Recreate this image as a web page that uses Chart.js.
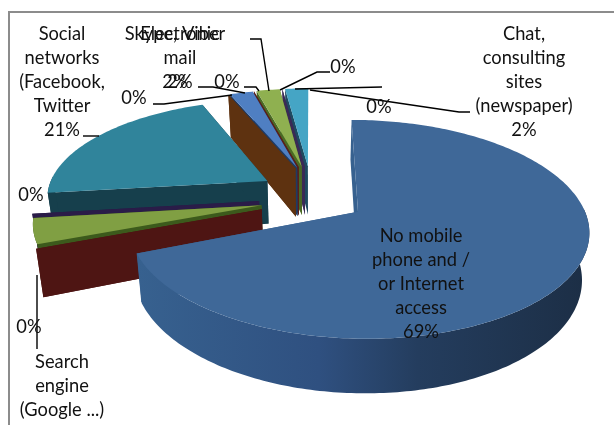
<!DOCTYPE html>
<html>
<head>
<meta charset="utf-8">
<script src="https://cdn.jsdelivr.net/npm/chart.js@4"></script>
<style>
  html, body { margin: 0; background: #fff; }
  canvas { display: block; }
</style>
</head>
<body>
<canvas id="myChart" width="614" height="425"></canvas>
<script>
const categories = [
  "No mobile phone and / or Internet access", "Zero A", "Search engine (Google ...)", "Zero B",
  "Social networks (Facebook, Twitter", "Zero C", "Skype, Viber", "Zero D",
  "Electronic mail", "Zero E", "Chat, consulting sites (newspaper)", "Zero F"
];
const values = [69, 0, 4, 0, 21, 0, 2, 0, 2, 0, 2, 0];
const topColors = ["#3f6898", "#8a3a36", "#809f43", "#5f4a80", "#30849b", "#b65708",
                   "#4f7fc2", "#772c2a", "#8fb050", "#4d3b62", "#45a5c5", "#b65708"];
const sideColors = ["#37618f", "#4e1513", "#3c5a1c", "#2a1c48", "#163f4c", "#5e3210",
                    "#1f3a63", "#5a1f1a", "#4a6a25", "#3a2a55", "#1e4a60", "#5e3210"];
const wallStops = [[0, "#37618f"], [0.4, "#2f5080"], [0.62, "#243d5e"], [1, "#1c2e45"]];

// per slice tweaks of the tilted look
const pullScaleX = [1.07, 1, 0.97, 1, 1, 0.85, 0.9, 1, 1, 1, 1, 1];
const pullScaleY = [0.8, 1, 1, 1, 1, 1, 1, 1, 1, 1, 1, 1];
const radiusScaleY = [1.04, 1, 1, 1, 1, 1, 1, 1, 1, 1, 1, 1];
const depthScale = [1.02, 1.02, 1, 1, 1, 1.15, 1.15, 1.15, 1.15, 1.15, 1.15, 1.15];

// text blocks: lines, centre x, y of first line
const labelBlocks = [
  [["Social", "networks", "(Facebook,", "Twitter", "21%"], 62, 34],
  [["Skype, Viber", "", "2%"], 175, 34],
  [["Electronic", "mail", "2%"], 180, 34],
  [["0%"], 134, 98],
  [["0%"], 227, 82],
  [["0%"], 31, 195],
  [["0%"], 29, 327],
  [["Search", "engine", "(Google ...)"], 62, 362],
  [["0%"], 343, 67],
  [["0%"], 379, 107],
  [["Chat,", "consulting", "sites", "(newspaper)", "2%"], 524, 34],
  [["No mobile", "phone and /", "or Internet", "access", "69%"], 421, 236]
];
const leaderLines = [
  [[83, 136], [99, 136]],
  [[153, 104], [164, 104], [232, 95]],
  [[198, 87], [213, 87], [245, 93]],
  [[244, 87], [256, 87], [259, 91]],
  [[250, 39], [261, 39], [269, 91]],
  [[330, 72], [317, 72], [280, 90]],
  [[295, 89], [382, 87]],
  [[470, 112], [459, 112], [310, 90]],
  [[37, 275], [37, 349]]
];

const view = { cx: 311, cy: 197, rx: 222, ry: 98, persp: 0.15, depth: 44, pullX: 0.234, pullY: 0.33 };

function project(wx, wy, z) {
  const s = 1 / (1 - view.persp * wy);
  const shrink = 1 - 0.026 * (z / view.depth);
  return [view.cx + view.rx * wx * s * shrink, view.cy + view.ry * wy * s + z * s];
}

function poly(ctx, pts, fill) {
  ctx.beginPath();
  pts.forEach((p, i) => i ? ctx.lineTo(p[0], p[1]) : ctx.moveTo(p[0], p[1]));
  ctx.closePath();
  ctx.fillStyle = fill;
  ctx.fill();
}

const pie3d = {
  id: "pie3d",
  beforeDatasetsDraw(chart) {
    const ctx = chart.ctx;
    const arcs = chart.getDatasetMeta(0).data.map((arc, i) => {
      const mid = (arc.startAngle + arc.endAngle) / 2;
      return {
        i, a0: arc.startAngle, a1: arc.endAngle,
        ax: Math.cos(mid) * view.pullX * pullScaleX[i],
        ay: Math.sin(mid) * view.pullY * pullScaleY[i],
        top: arc.options.backgroundColor
      };
    });
    arcs.sort((p, q) => p.ay - q.ay);

    arcs.forEach(s => {
      const side = sideColors[s.i];
      const depth = view.depth * depthScale[s.i];
      const rim = a => [s.ax + Math.cos(a), s.ay + Math.sin(a) * radiusScaleY[s.i]];
      // radial faces, edge-on ones are skipped
      [s.a0, s.a1].forEach(a => {
        const [rx, ry] = rim(a);
        const p0 = project(s.ax, s.ay, 0), p1 = project(rx, ry, 0);
        if (Math.abs(p1[0] - p0[0]) < 2) return;
        poly(ctx, [p0, p1, project(rx, ry, depth), project(s.ax, s.ay, depth)], side);
      });
      // outer wall, front half only
      const upper = [], lower = [];
      for (let a = s.a0; a <= s.a1 + 1e-6; a += Math.PI / 180) {
        if (Math.sin(a) < -0.05) continue;
        const [x, y] = rim(a);
        upper.push(project(x, y, 0));
        lower.unshift(project(x, y, depth));
      }
      if (upper.length > 1) {
        let fill = side;
        if (s.i == 0) {
          fill = ctx.createLinearGradient(138, 0, 590, 0);
          wallStops.forEach(st => fill.addColorStop(st[0], st[1]));
        }
        poly(ctx, upper.concat(lower), fill);
      }
      // top
      if (s.a1 > s.a0) {
        const pts = [project(s.ax, s.ay, 0)];
        for (let a = s.a0; a < s.a1; a += Math.PI / 180) {
          const [x, y] = rim(a);
          pts.push(project(x, y, 0));
        }
        const [x, y] = rim(s.a1);
        pts.push(project(x, y, 0));
        poly(ctx, pts, s.top);
      }
    });
    return false;
  },
  afterDraw(chart) {
    const ctx = chart.ctx;
    ctx.save();
    ctx.strokeStyle = "#8c8c8c";
    ctx.lineWidth = 2;
    ctx.strokeRect(9, 12, 700, 500);

    ctx.strokeStyle = "#000";
    ctx.lineWidth = 1.4;
    leaderLines.forEach(line => {
      ctx.beginPath();
      line.forEach((p, i) => i ? ctx.lineTo(p[0], p[1]) : ctx.moveTo(p[0], p[1]));
      ctx.stroke();
    });

    ctx.fillStyle = "#111";
    ctx.font = "18.3px Lato";
    ctx.textAlign = "center";
    ctx.textBaseline = "middle";
    labelBlocks.forEach(([lines, x, y]) => {
      lines.forEach((t, i) => { if (t) ctx.fillText(t, x, y + i * 24); });
    });
    ctx.restore();
  }
};

new Chart(document.getElementById("myChart").getContext("2d"), {
  type: "pie",
  data: {
    labels: categories,
    datasets: [{ data: values, backgroundColor: topColors, borderWidth: 0 }]
  },
  options: {
    responsive: false,
    animation: false,
    plugins: { legend: { display: false }, tooltip: { enabled: false } }
  },
  plugins: [pie3d]
});
</script>
</body>
</html>
